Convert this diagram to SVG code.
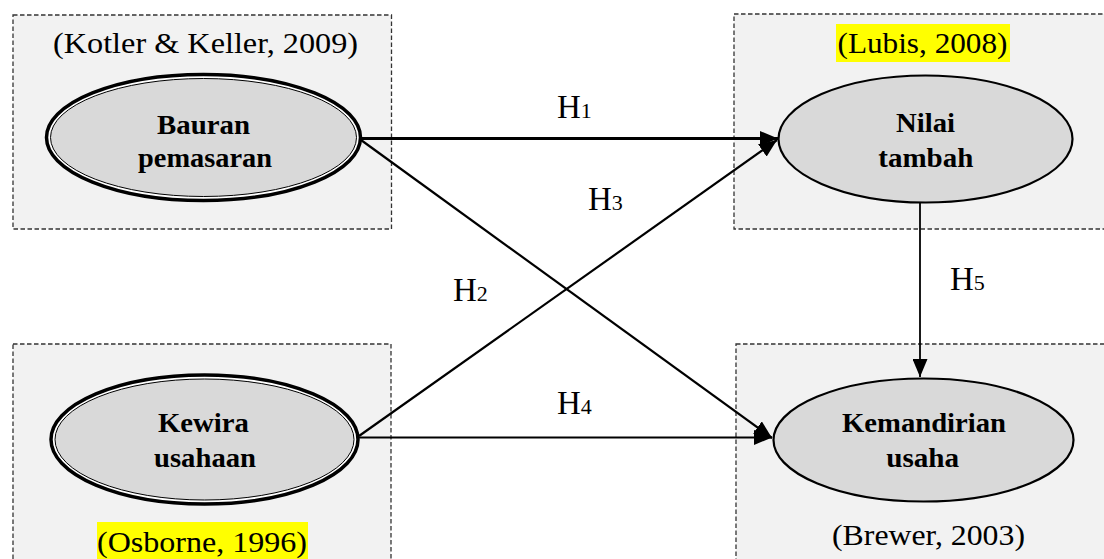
<svg xmlns="http://www.w3.org/2000/svg" width="1104" height="559" viewBox="0 0 1104 559">
  <style>
    .box { fill: #f2f2f2; stroke: #333; stroke-width: 1.3; stroke-dasharray: 4.5 2.5; }
    .ell { fill: #d9d9d9; stroke: #000; stroke-width: 2.2; }
    .ell-outer { fill: #fff; stroke: #000; stroke-width: 3.5; }
    .ell-inner { fill: #d9d9d9; stroke: #000; stroke-width: 1; }
    text { font-family: 'Liberation Serif', serif; fill: #000; }
    .src { font-size: 30px; font-weight: normal; text-anchor: middle; }
    .lbl { font-size: 27px; font-weight: bold; text-anchor: middle; }
    .hyp { font-size: 33px; font-weight: normal; }
    .n { font-size: 22px; }
    .hl { fill: #ffff00; }
    .edge { fill: none; stroke: #000; stroke-width: 2.2; }
  </style>
  <defs>
    <marker id="arrow" viewBox="0 0 18 15" refX="18" refY="7.5" markerWidth="18" markerHeight="15" markerUnits="userSpaceOnUse" orient="auto">
      <path d="M0,0 L18,7.5 L0,15 z" fill="#000"/>
    </marker>
  </defs>

  <rect width="1104" height="559" fill="#fff"/>

  <!-- Bauran pemasaran -->
  <g id="bauran">
    <rect class="box" x="13" y="15" width="378.5" height="214"/>
    <text class="src" x="205.5" y="53" textLength="305" lengthAdjust="spacingAndGlyphs">(Kotler &amp; Keller, 2009)</text>
    <ellipse class="ell-outer" cx="203.5" cy="137.5" rx="157" ry="63"/>
    <ellipse class="ell-inner" cx="203.5" cy="137.5" rx="153" ry="59"/>
    <text class="lbl" x="203.5" y="134" textLength="93" lengthAdjust="spacingAndGlyphs">Bauran</text>
    <text class="lbl" x="205" y="167" textLength="134" lengthAdjust="spacingAndGlyphs">pemasaran</text>
  </g>

  <!-- Nilai tambah -->
  <g id="nilai">
    <rect class="box" x="734" y="14" width="380" height="215"/>
    <rect class="hl" x="836" y="24" width="174" height="38"/>
    <text class="src" x="922.5" y="53" textLength="170" lengthAdjust="spacingAndGlyphs">(Lubis, 2008)</text>
    <ellipse class="ell" cx="925.5" cy="139" rx="147" ry="63.5"/>
    <text class="lbl" x="925.5" y="132" textLength="59" lengthAdjust="spacingAndGlyphs">Nilai</text>
    <text class="lbl" x="925.8" y="167" textLength="95" lengthAdjust="spacingAndGlyphs">tambah</text>
  </g>

  <!-- Kewira usahaan -->
  <g id="kewira">
    <rect class="box" x="13" y="344" width="378" height="230"/>
    <ellipse class="ell-outer" cx="204.5" cy="439.5" rx="153.5" ry="64.5"/>
    <ellipse class="ell-inner" cx="204.5" cy="439.5" rx="149.5" ry="60.5"/>
    <text class="lbl" x="203.5" y="432" textLength="91" lengthAdjust="spacingAndGlyphs">Kewira</text>
    <text class="lbl" x="205" y="467" textLength="102" lengthAdjust="spacingAndGlyphs">usahaan</text>
    <rect class="hl" x="97" y="522" width="211" height="40"/>
    <text class="src" x="202" y="552" textLength="210" lengthAdjust="spacingAndGlyphs">(Osborne, 1996)</text>
  </g>

  <!-- Kemandirian usaha -->
  <g id="kemandirian">
    <rect class="box" x="736" y="344" width="380" height="230"/>
    <ellipse class="ell" cx="923.5" cy="440" rx="150" ry="61.5"/>
    <text class="lbl" x="924" y="432" textLength="164" lengthAdjust="spacingAndGlyphs">Kemandirian</text>
    <text class="lbl" x="922.7" y="467" textLength="73" lengthAdjust="spacingAndGlyphs">usaha</text>
    <text class="src" x="928.5" y="545" textLength="193" lengthAdjust="spacingAndGlyphs">(Brewer, 2003)</text>
  </g>

  <!-- Connectors -->
  <g id="connectors">
    <line class="edge" x1="361" y1="138.5" x2="778" y2="138.5" marker-end="url(#arrow)" style="stroke-width:2.8"/>
    <line class="edge" x1="361" y1="140" x2="772" y2="438" marker-end="url(#arrow)"/>
    <line class="edge" x1="359" y1="436" x2="777" y2="140" marker-end="url(#arrow)"/>
    <line class="edge" x1="359" y1="437.5" x2="772" y2="437.5" marker-end="url(#arrow)"/>
    <line class="edge" x1="920" y1="203" x2="920" y2="377" marker-end="url(#arrow)" style="stroke-width:1.8"/>

    <text class="hyp" x="557" y="118">H<tspan class="n">1</tspan></text>
    <text class="hyp" x="453" y="301">H<tspan class="n">2</tspan></text>
    <text class="hyp" x="588" y="210">H<tspan class="n">3</tspan></text>
    <text class="hyp" x="557" y="414">H<tspan class="n">4</tspan></text>
    <text class="hyp" x="950" y="290">H<tspan class="n">5</tspan></text>
  </g>
</svg>
